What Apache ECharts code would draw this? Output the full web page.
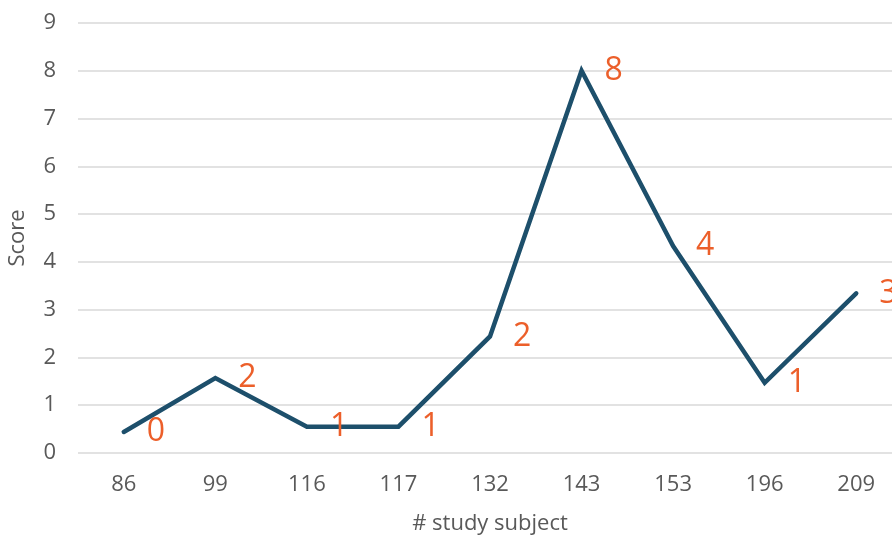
<!DOCTYPE html>
<html>
<head>
<meta charset="utf-8">
<script src="https://cdn.jsdelivr.net/npm/echarts@6/dist/echarts.min.js"></script>
<style>
html,body{margin:0;padding:0;background:#fff;}
#chart{width:892px;height:535px;}
</style>
</head>
<body>
<div id="chart"></div>
<script>
const categories = ['86', '99', '116', '117', '132', '143', '153', '196', '209'];
const scores = [0.44, 1.57, 0.55, 0.55, 2.44, 8.0, 4.33, 1.47, 3.34];
const scoreLabels = ['0', '2', '1', '1', '2', '8', '4', '1', '3'];
const yTicks = [0, 1, 2, 3, 4, 5, 6, 7, 8, 9];

const FONT = 'Open Sans';
const chart = echarts.init(document.getElementById('chart'));
chart.setOption({
  animation: false,
  backgroundColor: '#ffffff',
  grid: { left: 78, top: 23, right: -10, bottom: 82, containLabel: false, outerBoundsMode: 'none' },
  xAxis: {
    type: 'category',
    data: categories,
    boundaryGap: true,
    name: '# study subject',
    nameLocation: 'middle',
    nameGap: 60,
    nameTextStyle: { color: '#595959', fontSize: 22, fontFamily: FONT },
    axisLine: { show: false },
    axisTick: { show: false },
    axisLabel: { color: '#595959', fontSize: 22, fontFamily: FONT, margin: 21 }
  },
  yAxis: {
    type: 'value',
    min: yTicks[0],
    max: yTicks[yTicks.length - 1],
    interval: 1,
    name: 'Score',
    nameLocation: 'middle',
    nameGap: 49,
    nameTextStyle: { color: '#595959', fontSize: 22, fontFamily: FONT },
    axisLine: { show: false },
    axisTick: { show: false },
    axisLabel: { color: '#595959', fontSize: 22, fontFamily: FONT, margin: 22 },
    splitLine: { lineStyle: { color: '#d9d9d9', width: 1.5 } }
  },
  series: [{
    type: 'line',
    data: scores,
    showSymbol: true,
    symbol: 'circle',
    symbolSize: 2,
    itemStyle: { color: '#1d4f6b' },
    lineStyle: { color: '#1d4f6b', width: 4.5, cap: 'round', join: 'miter' },
    label: {
      show: true,
      position: 'right',
      distance: 22,
      offset: [0, 2],
      color: '#ec5f2a',
      fontSize: 32,
      fontFamily: FONT,
      formatter: function (p) { return scoreLabels[p.dataIndex]; }
    },
    labelLayout: { hideOverlap: false }
  }]
});
</script>
</body>
</html>
